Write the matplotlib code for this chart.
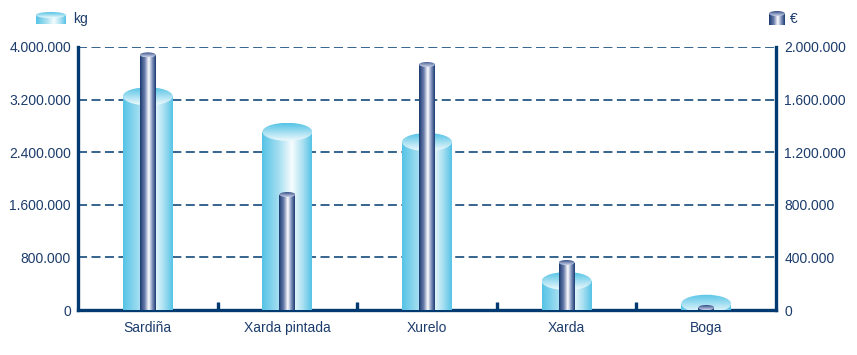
import matplotlib
matplotlib.use("Agg")
import matplotlib.pyplot as plt
import numpy as np
from matplotlib.colors import LinearSegmentedColormap
from matplotlib.patches import Rectangle, Ellipse

categories = ["Sardiña", "Xarda pintada", "Xurelo", "Xarda", "Boga"]
kg_values = [3250000, 2710000, 2555000, 440000, 95000]
eur_values = [1940000, 878000, 1867000, 361000, 19000]

kg_ticks = [0, 800000, 1600000, 2400000, 3200000, 4000000]
eur_ticks = [0, 400000, 800000, 1200000, 1600000, 2000000]

NAVY = "#003a70"
TEXT = "#1c3c6c"
DPI = 100
W_PX, H_PX = 857, 355

kg_body = LinearSegmentedColormap.from_list(
    "kg_body", [(0, "#55c3e6"), (0.35, "#a9e0f1"), (0.6, "#f6fcfe"),
                (0.82, "#a9e0f1"), (1, "#55c3e6")])
kg_cap = LinearSegmentedColormap.from_list(
    "kg_cap", [(0, "#f0fafd"), (1, "#55c3e6")])
eur_body = LinearSegmentedColormap.from_list(
    "eur_body", [(0, "#18396f"), (0.3, "#6a7dac"), (0.55, "#ffffff"),
                 (0.78, "#7e90bb"), (1, "#18396f")])
eur_cap = LinearSegmentedColormap.from_list(
    "eur_cap", [(0, "#cdd5e8"), (0.5, "#8292bb"), (1, "#2f4a82")])


def fmt(v):
    return f"{v:,.0f}".replace(",", ".")


def cylinder(ax, x, top, w, eh, body_cmap, cap_cmap, z=3):
    """Gradient-filled cylinder: horizontal shading on body, vertical on cap."""
    body = Rectangle((x - w / 2, 0), w, top, fc="none", ec="none")
    ax.add_patch(body)
    hgrad = np.linspace(0, 1, 256).reshape(1, -1)
    im = ax.imshow(hgrad, cmap=body_cmap, extent=(x - w / 2, x + w / 2, 0, top),
                   aspect="auto", origin="lower", interpolation="bilinear", zorder=z)
    im.set_clip_path(body)
    cap = Ellipse((x, top), w, eh, fc="none", ec="none")
    ax.add_patch(cap)
    vgrad = np.linspace(0, 1, 256).reshape(-1, 1)
    im2 = ax.imshow(vgrad, cmap=cap_cmap,
                    extent=(x - w / 2, x + w / 2, top - eh / 2, top + eh / 2),
                    aspect="auto", origin="lower", interpolation="bilinear", zorder=z + 0.1)
    im2.set_clip_path(cap)


plt.rcParams["font.family"] = ["Liberation Sans", "DejaVu Sans"]
plt.rcParams["lines.scale_dashes"] = False
fig = plt.figure(figsize=(W_PX / DPI, H_PX / DPI), dpi=DPI)

ax_l, ax_r, ax_b, ax_t = 78, 776, 310, 47
ax = fig.add_axes([ax_l / W_PX, 1 - ax_b / H_PX, (ax_r - ax_l) / W_PX, (ax_b - ax_t) / H_PX])
ax2 = ax.twinx()

n = len(categories)
px_h = ax_b - ax_t
kg_max, eur_max = kg_ticks[-1], eur_ticks[-1]

# kg cylinders (wide, light blue)
kg_w = 50 / ((ax_r - ax_l) / n)
kg_eh = 18 / px_h * kg_max
for i, v in enumerate(kg_values):
    cylinder(ax, i + 0.5, v, kg_w, kg_eh, kg_body, kg_cap)

# euro cylinders (narrow, dark blue)
eur_w = 16 / ((ax_r - ax_l) / n)
eur_eh = 5 / px_h * eur_max
for i, v in enumerate(eur_values):
    cylinder(ax2, i + 0.5, v, eur_w, eur_eh, eur_body, eur_cap)

ax.set_xlim(0, n)
ax.set_ylim(0, kg_max)
ax2.set_ylim(0, eur_max)

# grid
for t in kg_ticks[1:]:
    ax.axhline(t, color=NAVY, lw=1.1, dashes=(6.5, 3.2), zorder=1)

ax.spines["top"].set_visible(False)
for s in ["left", "bottom", "right"]:
    ax.spines[s].set_color(NAVY)
    ax.spines[s].set_linewidth(2.4)
    ax.spines[s].set_zorder(2.5)
for s in ax2.spines.values():
    s.set_visible(False)

ax.set_yticks(kg_ticks)
ax.set_yticklabels([fmt(t) for t in kg_ticks])
ax2.set_yticks(eur_ticks)
ax2.set_yticklabels([fmt(t) for t in eur_ticks])
ax.tick_params(axis="y", length=0, pad=5, labelsize=10, labelcolor=TEXT)
ax2.tick_params(axis="y", length=0, pad=6, labelsize=10, labelcolor=TEXT)

ax.set_xticks([i + 0.5 for i in range(n)])
ax.set_xticklabels(categories)
ax.tick_params(axis="x", which="major", length=0, pad=8, labelsize=10, labelcolor=TEXT)
ax.set_xticks(range(1, n), minor=True)
ax.tick_params(axis="x", which="minor", direction="in", length=6, width=2.4, color=NAVY)


# legend icons
def icon(x0, y0, w, h, body_cmap, cap_cmap, cap_h):
    iax = fig.add_axes([x0 / W_PX, 1 - (y0 + h) / H_PX, w / W_PX, h / H_PX])
    cylinder(iax, w / 2, h - cap_h / 2, w, cap_h, body_cmap, cap_cmap)
    iax.set_xlim(0, w)
    iax.set_ylim(0, h)
    iax.axis("off")


icon(36, 12, 30, 12, kg_body, kg_cap, 6)
fig.text(73 / W_PX, 1 - 19 / H_PX, "kg", color=TEXT, fontsize=10, va="center", ha="left")
icon(769, 11, 16, 14, eur_body, eur_cap, 5)
fig.text(790 / W_PX, 1 - 19 / H_PX, "€", color=TEXT, fontsize=10, va="center", ha="left")

fig.savefig("out.png", dpi=DPI)
